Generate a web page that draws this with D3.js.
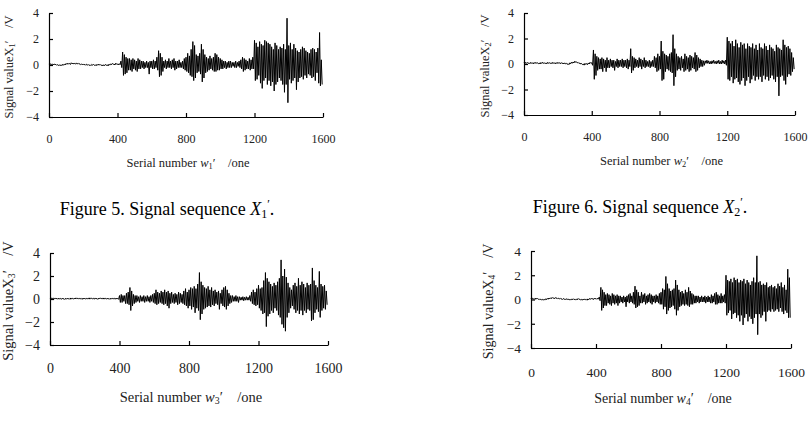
<!DOCTYPE html>
<html>
<head>
<meta charset="utf-8">
<script src="https://cdn.jsdelivr.net/npm/d3@7"></script>
<style>
  body { margin: 0; background: #fff; }
  svg { display: block; font-family: "Liberation Serif", "Times New Roman", serif; }
</style>
</head>
<body>
<svg width="810" height="434"></svg>
<script>
// Each signal is given as the max / min for every bin of 10 serial numbers (0..1590)
const binSize = 10;

const x1High = [
  0.08, 0.1, 0.07, 0.08, 0.05, 0.03, 0.02, 0.02, 0.05, 0.08, 0.12, 0.14, 0.12, 0.17, 0.15, 0.13, 0.16, 0.13, 0.1, 0.08,
  0.08, 0.05, 0.06, 0.03, 0.02, 0.05, 0.04, 0.02, 0.05, 0.07, 0.03, 0.01, 0.02, 0.04, 0.02, 0.06, 0.09, 0.12, 0.08, 0.14,
  0.08, 0.1,
  0.3, 1.0, 0.8, 0.6, 0.5, 0.5, 0.4, 0.5, 0.4, 0.3, 0.5, 0.4, 0.3, 0.3, 0.2, 0.3, 0.2, 0.3, 0.3, 0.4,
  0.3, 0.6, 1.1, 0.9, 0.6, 0.3, 0.4, 0.3, 0.5, 0.3, 0.4, 0.5, 0.3, 0.3, 0.4, 0.2, 0.3, 0.5, 0.6, 0.9,
  0.7, 1.2, 1.8, 1.5, 0.8, 0.7, 0.9, 1.6, 1.2, 0.8, 0.6, 0.5, 0.7, 0.5, 0.6, 0.9, 0.8, 0.6, 0.5, 0.4,
  0.3, 0.3, 0.2, 0.3, 0.3, 0.2, 0.2, 0.3, 0.2, 0.3, 0.4, 0.6, 0.5, 0.4, 0.3, 0.5, 0.4, 0.6,
  1.9, 1.7, 1.4, 1.8, 1.6, 1.5, 1.9, 1.8, 1.7, 1.6, 1.4, 1.2, 1.7, 1.5, 1.2, 1.4, 1.3, 1.6, 1.2, 3.6,
  1.5, 1.7, 1.2, 1.6, 1.3, 1.1, 1.0, 1.2, 1.4, 1.3, 1.1, 1.0, 0.9, 1.2, 1.3, 1.2, 1.0, 1.3, 2.5, 0.4
];
const x1Low = [
  0.0, 0.03, 0.0, 0.02, -0.02, -0.04, -0.06, -0.05, -0.02, 0.01, 0.05, 0.07, 0.04, 0.09, 0.08, 0.06, 0.08, 0.06, 0.03, 0.01,
  0.01, -0.02, 0.0, -0.04, -0.05, -0.01, -0.03, -0.06, -0.02, 0.0, -0.04, -0.07, -0.05, -0.03, -0.07, -0.01, 0.02, 0.05, 0.0, 0.06,
  0.0, 0.02,
  -0.2, -0.8, -0.7, -0.6, -0.4, -0.4, -0.5, -0.3, -0.4, -0.5, -0.3, -0.3, -0.2, -0.3, -0.2, -0.2, -0.7, -0.2, -0.3, -0.3,
  -0.2, -0.4, -0.9, -0.8, -0.5, -0.2, -0.3, -0.2, -0.2, -0.3, -0.2, -0.4, -0.3, -0.2, -0.2, -0.2, -0.3, -0.4, -0.5, -0.6,
  -0.8, -0.9, -1.2, -1.0, -0.6, -0.5, -0.7, -1.3, -1.0, -0.6, -0.5, -0.4, -0.3, -0.4, -0.5, -0.5, -0.4, -0.4, -0.3, -0.3,
  -0.2, -0.3, -0.2, -0.2, -0.2, -0.1, -0.2, -0.2, -0.1, -0.2, -0.3, -0.5, -0.4, -0.3, -0.3, -0.4, -0.3, -0.3,
  -1.2, -1.1, -0.8, -1.4, -1.8, -1.2, -1.0, -1.5, -1.2, -1.6, -1.3, -2.0, -1.5, -1.3, -1.0, -1.2, -1.5, -2.1, -1.5, -2.9,
  -1.1, -1.4, -1.2, -1.0, -1.9, -1.3, -1.0, -0.9, -1.1, -0.8, -1.0, -0.7, -0.8, -1.0, -0.9, -1.2, -0.6, -1.4, -1.6, -1.5
];

const x2High = [
  0.1, 0.13, 0.12, 0.1, 0.13, 0.09, 0.12, 0.13, 0.1, 0.08, 0.12, 0.13, 0.1, 0.09, 0.13, 0.11, 0.1, 0.13, 0.09, 0.11,
  0.13, 0.1, 0.11, 0.08, 0.09, 0.05, 0.03, 0.09, 0.14, 0.16, 0.22, 0.17, 0.12, 0.08, 0.04, 0.0, 0.05, 0.04, 0.08, 0.13,
  0.1,
  1.1, 0.8, 0.6, 0.5, 0.4, 0.5, 0.4, 0.3, 0.5,
  0.3, 0.4, 0.3, 0.3, 0.2, 0.4, 0.3, 0.3, 0.4, 0.3, 0.3, 0.4, 0.3, 1.2, 0.6, 0.5, 0.4, 0.3, 0.5, 0.4,
  0.3, 0.5, 0.3, 0.2, 0.3, 0.2, 0.3, 0.6, 0.5, 0.8, 0.6, 1.8, 1.0, 0.8, 0.7, 0.6, 0.8, 0.9, 2.3, 1.2,
  0.8, 0.6, 0.5, 0.6, 0.4, 0.8, 0.6, 0.5, 0.7, 0.6, 0.5, 0.9, 0.7, 0.5, 0.4, 0.3, 0.25, 0.25, 0.3, 0.25,
  0.2, 0.25, 0.3, 0.2, 0.25, 0.3, 0.2, 0.3, 0.25, 0.3,
  2.1, 1.8, 1.6, 1.8, 1.4, 1.9, 1.6, 1.3, 1.7, 1.5, 1.6, 1.2, 1.6, 1.4, 1.3, 1.6, 1.2, 1.5, 1.1, 1.6,
  1.3, 1.2, 1.6, 1.4, 1.1, 1.5, 1.3, 1.2, 1.0, 1.5, 1.3, 1.2, 1.1, 1.9, 1.5, 1.3, 1.4, 1.2, 0.9, 0.5
];
const x2Low = [
  0.02, 0.05, 0.04, 0.02, 0.05, 0.01, 0.04, 0.05, 0.02, 0.0, 0.04, 0.05, 0.02, 0.01, 0.05, 0.03, 0.02, 0.05, 0.01, 0.03,
  0.05, 0.02, 0.03, 0.0, 0.01, -0.03, -0.05, 0.01, 0.06, 0.08, 0.13, 0.09, 0.04, 0.0, -0.05, -0.09, -0.04, -0.05, 0.0, 0.05,
  -0.1,
  -1.2, -0.9, -0.5, -0.4, -0.4, -0.6, -0.3, -0.6, -0.3,
  -0.3, -0.2, -0.3, -0.5, -0.2, -0.3, -0.2, -0.2, -0.3, -0.2, -0.3, -0.4, -0.2, -0.7, -0.5, -0.3, -0.2, -0.3, -0.2, -0.4,
  -0.2, -0.3, -0.2, -0.2, -0.3, -0.2, -0.2, -0.3, -0.6, -0.5, -0.4, -1.3, -1.2, -0.6, -0.4, -0.5, -0.6, -0.7, -1.7, -1.0,
  -0.5, -0.4, -0.5, -0.3, -0.6, -0.5, -0.4, -0.6, -0.5, -0.3, -0.4, -0.6, -0.5, -0.3, -0.2, -0.2, -0.1, 0.05, 0.05, 0.0,
  0.0, 0.05, 0.05, 0.0, 0.05, 0.0, 0.0, 0.05, 0.0, -0.1,
  -1.2, -1.3, -1.0, -1.5, -1.2, -1.1, -1.4, -1.6, -1.3, -1.1, -1.7, -1.3, -1.0, -1.5, -1.2, -0.9, -1.3, -1.0, -1.2, -1.0,
  -1.4, -0.9, -1.2, -1.0, -1.3, -1.1, -0.9, -1.2, -1.4, -1.0, -2.5, -1.0, -0.9, -1.3, -1.6, -1.0, -0.8, -0.9, -0.6, -0.4
];

const x3High = [
  0.08, 0.1, 0.07, 0.09, 0.06, 0.08, 0.05, 0.07, 0.04, 0.06, 0.08, 0.05, 0.09, 0.06, 0.08, 0.1, 0.07, 0.09, 0.05, 0.08,
  0.06, 0.09, 0.07, 0.1, 0.08, 0.06, 0.09, 0.05, 0.08, 0.1, 0.07, 0.09, 0.06, 0.08, 0.05, 0.07, 0.09, 0.06, 0.08, 0.05,
  0.3, 0.4, 0.3, 0.3, 0.5, 0.6, 1.0, 0.7, 0.4, 0.3, 0.3, 0.2, 0.3, 0.2, 0.3, 0.2, 0.3, 0.2, 0.3, 0.4,
  0.5, 0.8, 0.6, 0.5, 0.7, 0.6, 0.8, 0.6, 0.7, 0.5, 0.6, 0.4, 0.5, 0.4, 0.6, 0.5, 0.4, 0.7, 0.9, 0.6,
  0.8, 1.0, 0.9, 1.1, 0.9, 1.3, 2.3, 1.5, 1.2, 1.0, 0.9, 1.1, 0.8, 1.0, 0.7, 0.8, 0.6, 0.7, 0.5, 0.8,
  1.0, 1.1, 0.8, 0.5, 0.3, 0.3, 0.2, 0.3, 0.2, 0.2, 0.15, 0.2, 0.15, 0.2, 0.15, 0.3, 0.6, 0.8, 0.6, 0.9,
  1.2, 0.9, 1.0, 1.6, 2.3, 1.8, 1.5, 1.3, 1.1, 1.4, 1.2, 1.5, 1.8, 3.4, 2.0, 2.6, 1.9, 1.4, 1.0, 0.8,
  1.2, 1.4, 1.1, 1.8, 1.2, 1.5, 1.3, 1.0, 1.4, 1.2, 1.3, 2.7, 1.6, 1.2, 1.0, 2.4, 1.3, 1.1, 1.2, 0.7
];
const x3Low = [
  0.0, 0.02, -0.01, 0.01, -0.02, 0.0, -0.03, -0.01, -0.04, -0.02, 0.0, -0.03, 0.01, -0.02, 0.0, 0.02, -0.01, 0.01, -0.03, 0.0,
  -0.02, 0.01, -0.01, 0.02, 0.0, -0.02, 0.01, -0.03, 0.0, 0.02, -0.01, 0.01, -0.02, 0.0, -0.03, -0.01, 0.01, -0.02, 0.0, -0.03,
  -0.3, -0.3, -0.2, -0.4, -0.4, -0.5, -1.0, -0.6, -0.4, -0.3, -0.2, -0.3, -0.2, -0.2, -0.3, -0.2, -0.2, -0.3, -0.2, -0.3,
  -0.4, -0.5, -0.4, -0.3, -0.4, -0.5, -0.4, -0.6, -0.8, -0.4, -0.3, -0.4, -0.3, -0.5, -0.4, -0.3, -0.4, -0.5, -0.6, -0.8,
  -0.6, -0.9, -0.7, -1.2, -0.8, -1.0, -1.8, -1.3, -0.9, -0.8, -0.7, -0.6, -0.7, -0.5, -0.6, -0.4, -0.5, -0.9, -0.4, -0.6,
  -0.7, -0.9, -0.6, -0.4, -0.3, -0.2, -0.2, -0.2, -0.3, -0.1, -0.1, -0.15, -0.1, -0.1, -0.1, -0.2, -0.4, -0.5, -0.6, -0.5,
  -0.8, -1.0, -1.3, -1.2, -2.4, -1.5, -1.3, -1.0, -1.2, -0.8, -1.0, -1.4, -1.6, -2.2, -2.5, -2.8, -1.6, -1.2, -0.8, -0.6,
  -0.9, -1.2, -1.0, -1.3, -1.0, -1.4, -1.0, -1.2, -0.9, -1.0, -1.9, -1.8, -1.2, -0.9, -1.1, -1.6, -1.0, -0.8, -0.9, -0.5
];

const x4High = [
  0.09, 0.1, 0.08, 0.12, 0.08, 0.05, 0.03, 0.01, 0.02, 0.06, 0.09, 0.12, 0.14, 0.17, 0.13, 0.16, 0.14, 0.11, 0.09, 0.07,
  0.08, 0.05, 0.07, 0.03, 0.02, 0.05, 0.06, 0.02, 0.05, 0.08, 0.03, 0.01, 0.03, 0.05, 0.01, 0.05, 0.08, 0.1, 0.07, 0.12,
  0.09, 0.1, 0.2,
  1.0, 0.8, 0.6, 0.4, 0.5, 0.4, 0.3,
  0.5, 0.4, 0.3, 0.4, 0.3, 0.3, 0.2, 0.3, 0.2, 0.3, 0.4, 0.5, 0.3, 0.6, 1.1, 0.8, 0.6, 0.3, 0.6, 0.4,
  0.5, 0.3, 0.4, 0.5, 0.4, 0.3, 0.3, 0.4, 0.3, 0.5, 0.6, 0.9, 0.8, 1.9, 1.3, 0.9, 0.7, 0.8, 0.9, 1.6,
  1.2, 0.8, 0.6, 0.7, 0.5, 0.8, 0.6, 1.0, 0.7, 0.5, 0.4, 0.3, 0.3, 0.3, 0.2, 0.3, 0.2, 0.3, 0.2, 0.3,
  0.2, 0.4, 0.3, 0.5, 0.6, 0.4, 0.3, 0.5, 0.3, 0.4,
  2.0, 1.6, 1.5, 1.7, 1.4, 1.8, 1.6, 1.7, 1.4, 1.6, 1.5, 1.7, 1.3, 1.6, 1.4, 1.2, 1.5, 1.8, 1.4, 3.6,
  1.4, 1.5, 1.2, 1.3, 1.2, 1.4, 1.0, 1.1, 1.2, 1.0, 1.1, 0.9, 1.3, 1.1, 1.4, 1.0, 1.2, 0.8, 2.5, 1.8
];
const x4Low = [
  0.02, 0.04, 0.01, 0.05, 0.01, -0.02, -0.04, -0.06, -0.05, -0.01, 0.02, 0.05, 0.07, 0.1, 0.06, 0.09, 0.07, 0.04, 0.02, 0.0,
  0.01, -0.02, 0.0, -0.04, -0.05, -0.02, -0.01, -0.05, -0.02, 0.01, -0.04, -0.06, -0.04, -0.02, -0.06, -0.02, 0.01, 0.03, 0.0, 0.05,
  0.02, 0.03, -0.1,
  -0.9, -0.7, -0.5, -0.5, -0.3, -0.4, -0.5,
  -0.3, -0.4, -0.3, -0.5, -0.3, -0.2, -0.3, -0.2, -0.6, -0.2, -0.3, -0.2, -0.3, -0.4, -0.7, -0.6, -0.5, -0.3, -0.3, -0.2,
  -0.4, -0.3, -0.2, -0.3, -0.4, -0.2, -0.3, -0.2, -0.3, -0.4, -0.4, -0.8, -0.6, -1.2, -0.9, -0.7, -0.6, -0.5, -0.8, -1.3,
  -0.9, -0.6, -0.5, -0.4, -0.5, -0.4, -0.5, -0.6, -0.4, -0.4, -0.3, -0.3, -0.2, -0.3, -0.2, -0.2, -0.2, -0.3, -0.2, -0.2,
  -0.3, -0.3, -0.2, -0.4, -0.4, -0.3, -0.3, -0.3, -0.2, -0.3,
  -1.3, -1.1, -0.9, -1.6, -1.2, -1.1, -1.5, -1.3, -1.8, -1.3, -2.1, -1.5, -1.2, -1.8, -1.4, -1.6, -2.0, -1.5, -1.2, -2.9,
  -1.2, -1.5, -1.3, -1.0, -1.8, -1.0, -0.9, -1.0, -0.8, -1.0, -0.9, -0.8, -1.0, -0.7, -1.0, -1.2, -0.9, -1.1, -1.5, -1.5
];

const xTicks = [0, 400, 800, 1200, 1600];
const yTicks = [-4, -2, 0, 2, 4];
const captions = ["Figure 5. Signal sequence ", "Figure 6. Signal sequence "];

// Panel layout (pixel boxes of each plot area)
const panels = [
  {high: x1High, low: x1Low, idx: "1", x0: 49, x1: 323, y0: 13, y1: 117, font: 12, xLab: 17, xTitle: 167, yTitleX: 13, cap: {x: 167, y: 215}},
  {high: x2High, low: x2Low, idx: "2", x0: 524, x1: 795, y0: 13, y1: 115, font: 12, xLab: 17, xTitle: 165, yTitleX: 489, cap: {x: 640, y: 213}},
  {high: x3High, low: x3Low, idx: "3", x0: 50, x1: 328, y0: 253, y1: 345, font: 14, xLab: 18, xTitle: 402, yTitleX: 12.5},
  {high: x4High, low: x4Low, idx: "4", x0: 531, x1: 791, y0: 251, y1: 348, font: 13.5, xLab: 19, xTitle: 403, yTitleX: 493}
];

const svg = d3.select("svg");

panels.forEach((p, k) => {
  const x = d3.scaleLinear().domain([0, 1600]).range([p.x0, p.x1]);
  const y = d3.scaleLinear().domain([-4, 4]).range([p.y1, p.y0]);
  const g = svg.append("g");

  // zig-zag between bin max and bin min
  const pts = [];
  p.high.forEach((h, i) => {
    pts.push([i * binSize, h]);
    pts.push([i * binSize + binSize / 2, p.low[i]]);
  });

  const line = d3.line()
      .x(d => x(d[0]))
      .y(d => y(d[1]));

  g.append("path")
      .datum(pts)
      .attr("fill", "none")
      .attr("stroke", "#000")
      .attr("stroke-width", 1)
      .attr("d", line);

  // X axis, ticks pointing inward
  const xa = g.append("g")
      .attr("transform", `translate(0,${p.y1})`)
      .call(d3.axisBottom(x).tickValues(xTicks).tickSizeInner(-4).tickSizeOuter(0).tickPadding(p.xLab)
        .tickFormat(d => String(d)));

  // Y axis, ticks pointing inward
  const ya = g.append("g")
      .attr("transform", `translate(${p.x0},0)`)
      .call(d3.axisLeft(y).tickValues(yTicks).tickSizeInner(-4).tickSizeOuter(0).tickPadding(10)
        .tickFormat(d => d < 0 ? "\u2212" + Math.abs(d) : String(d)));

  [xa, ya].forEach(a => {
    a.select(".domain").attr("stroke", "#000").attr("stroke-width", 1.2);
    a.selectAll(".tick line").attr("stroke", "#000").attr("stroke-width", 1.2);
    a.selectAll("text")
        .attr("font-family", "Liberation Serif, serif")
        .attr("font-size", p.font)
        .attr("fill", "#222");
  });

  // X axis title
  const xt = g.append("text")
      .attr("x", (p.x0 + p.x1) / 2 + 2)
      .attr("y", p.xTitle)
      .attr("text-anchor", "middle")
      .attr("font-size", p.font + 0.5)
      .attr("fill", "#222");
  xt.append("tspan").text("Serial number ");
  xt.append("tspan").attr("font-style", "italic").text("w");
  xt.append("tspan").attr("font-size", p.font * 0.7).attr("dy", 2).text(p.idx);
  xt.append("tspan").attr("dy", -2).text("\u2032\u2003/one");

  // Y axis title (rotated)
  const cy = (p.y0 + p.y1) / 2 + 2;
  const yt = g.append("text")
      .attr("transform", `translate(${p.yTitleX},${cy}) rotate(-90)`)
      .attr("text-anchor", "middle")
      .attr("font-size", p.font + 0.5)
      .attr("fill", "#222");
  yt.append("tspan").text("Signal valueX");
  yt.append("tspan").attr("font-size", p.font * 0.7).attr("dy", 2).text(p.idx);
  yt.append("tspan").attr("dy", -2).text("\u2032\u2003/V");

  // Figure caption
  if (p.cap) {
    const ct = g.append("text")
        .attr("x", p.cap.x)
        .attr("y", p.cap.y)
        .attr("text-anchor", "middle")
        .attr("font-size", 18)
        .attr("fill", "#000");
    ct.append("tspan").text(captions[k]);
    ct.append("tspan").attr("font-style", "italic").text("X");
    ct.append("tspan").attr("font-size", 12).attr("dy", 3).text(p.idx);
    ct.append("tspan").attr("font-size", 12).attr("dy", -10).text("\u2032");
    ct.append("tspan").attr("dy", 7).text(".");
  }
});
</script>
</body>
</html>
